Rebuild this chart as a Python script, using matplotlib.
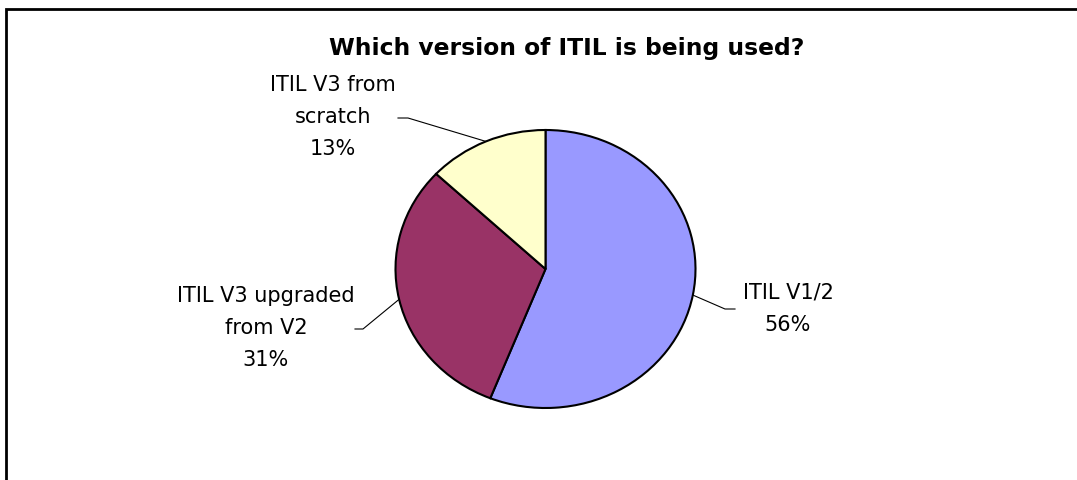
import numpy as np
import matplotlib
matplotlib.use("Agg")
import matplotlib.pyplot as plt

labels = ["ITIL V1/2", "ITIL V3 upgraded\nfrom V2", "ITIL V3 from\nscratch"]
values = [56, 31, 13]
colors = ["#9999FF", "#993366", "#FFFFCC"]
title = "Which version of ITIL is being used?"

W, H = 1077, 481
fig = plt.figure(figsize=(W / 100, H / 100), dpi=100)

# overlay axes in pixel coordinates
ov = fig.add_axes([0, 0, 1, 1])
ov.set_xlim(0, W)
ov.set_ylim(H, 0)
ov.axis("off")

# chart border (cropped on right/bottom)
ov.plot([6, 6, W + 5], [H + 5, 10, 10], color="black", lw=2, solid_joinstyle="miter")

# pie axes: ellipse box
cx, cy, rx, ry = 545.5, 270.0, 150.0, 139.0
pax = fig.add_axes([(cx - rx) / W, 1 - (cy + ry) / H, 2 * rx / W, 2 * ry / H])
wedges, _ = pax.pie(values, colors=colors, startangle=90, counterclock=False,
                    wedgeprops=dict(edgecolor="black", linewidth=1.5), radius=1.0)
pax.set_aspect("auto")
pax.set_xlim(-1, 1)
pax.set_ylim(-1, 1)
pax.axis("off")

ov.text(567, 48, title, ha="center", va="center", fontsize=16.8,
        fontweight="bold", family="DejaVu Sans")

# label layout (pixel coords): elbow, end of leader, text center
layout = [
    dict(elbow=(725, 310), end=(735, 310), text=(788, 309)),
    dict(elbow=(363, 330), end=(355, 330), text=(266, 328)),
    dict(elbow=(408, 119), end=(398, 119), text=(333, 117)),
]

total = sum(values)
start = 90.0
for lab, v, lay in zip(labels, values, layout):
    span = 360.0 * v / total
    mid = np.deg2rad(start - span / 2)
    start -= span
    px = cx + rx * np.cos(mid)
    py = cy - ry * np.sin(mid)
    ov.plot([px, lay["elbow"][0], lay["end"][0]], [py, lay["elbow"][1], lay["end"][1]],
            color="black", lw=0.8)
    ov.text(lay["text"][0], lay["text"][1], f"{lab}\n{v}%", ha="center", va="center",
            fontsize=15, linespacing=1.75, family="DejaVu Sans")

fig.savefig("out.png", dpi=100)
